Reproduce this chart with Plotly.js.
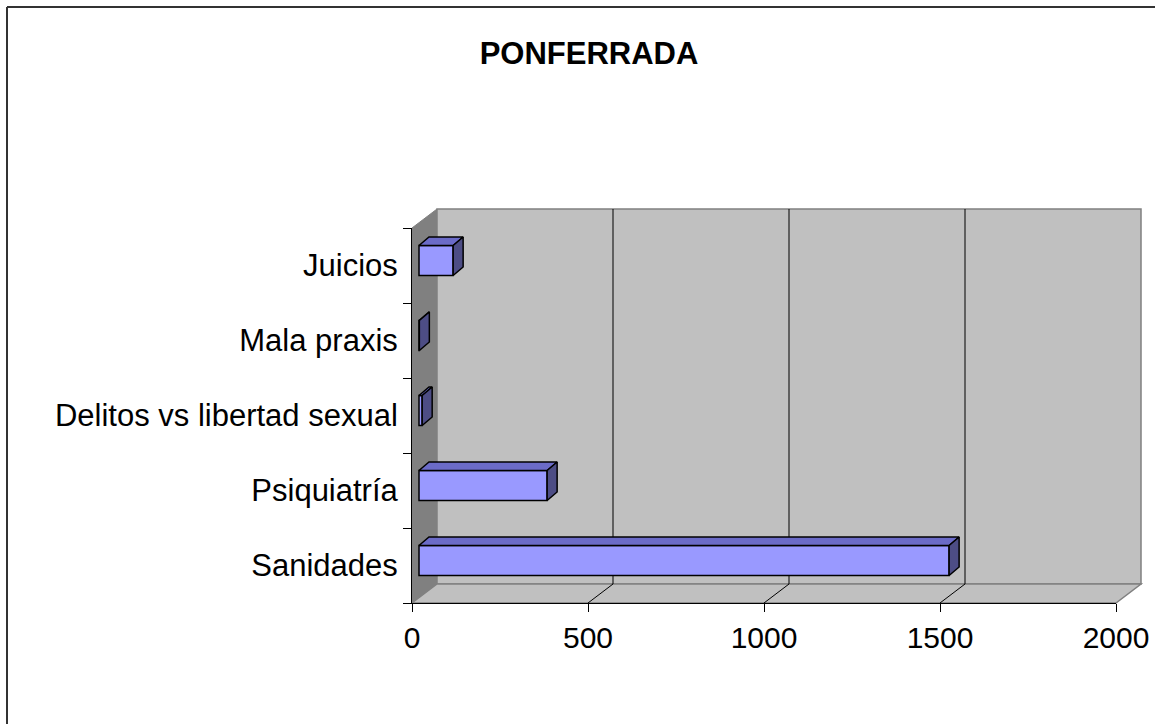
<!DOCTYPE html>
<html>
<head>
<meta charset="utf-8">
<script src="https://cdn.plot.ly/plotly-3.0.1.min.js"></script>
<style>
  html, body { margin: 0; padding: 0; background: #ffffff; }
  #chart { width: 1155px; height: 724px; }
</style>
</head>
<body>
<div id="chart"></div>
<script>
// ---- Data ----
const categories = ["Sanidades", "Psiquiatría", "Delitos vs libertad sexual", "Mala praxis", "Juicios"];
const values = [1506, 364, 9, 1, 97];
const xTickValues = [0, 500, 1000, 1500, 2000];
const chartTitle = "PONFERRADA";

// ---- Geometry (pixels of the figure) ----
const W = 1155, H = 724;
const PL = 412, PR = 1116, PT = 228, PB = 603;        // front plane of the 3D box
const plotW = PR - PL, plotH = PB - PT;
const xMax = 2000;
const pxPerUnit = plotW / xMax;
const catPx = plotH / categories.length;
const WALL_DX = 25, WALL_DY = 19;   // depth of the 3D box
const BAR_FRONT_DX = 7;             // bars sit a bit behind the front plane
const BAR_DX = 10, BAR_DY = 8.5;    // bar depth
const barWidth = 0.4;
const barShiftUp = 5 / catPx;

const font = "Liberation Sans, Arial, sans-serif";
const frontColor = "#9999ff", topColor = "#6b6bc8", sideColor = "#4d4d85";

const xBase = BAR_FRONT_DX / pxPerUnit;
const dxu = BAR_DX / pxPerUnit, dyu = BAR_DY / catPx;
const yPos = categories.map((c, i) => i);
const barOffset = -barWidth / 2 + barShiftUp;

const traces = [];
traces.push({
  type: "bar", orientation: "h",
  y: yPos, x: values, base: categories.map(() => xBase),
  width: categories.map(() => barWidth),
  offset: categories.map(() => barOffset),
  marker: { color: frontColor, line: { color: "#000000", width: 1.5 } },
  customdata: categories, textposition: "none",
  hovertemplate: "%{customdata}: %{x}<extra></extra>",
  showlegend: false
});

values.forEach((v, i) => {
  const yb = yPos[i] + barOffset, yt = yb + barWidth;
  const x0 = xBase, x1 = xBase + v;
  traces.push({
    type: "scatter", mode: "lines", fill: "toself", fillcolor: topColor,
    x: [x0, x1, x1 + dxu, x0 + dxu, x0], y: [yt, yt, yt + dyu, yt + dyu, yt],
    line: { color: "#000000", width: 1.5 }, hoverinfo: "skip", showlegend: false
  });
  traces.push({
    type: "scatter", mode: "lines", fill: "toself", fillcolor: sideColor,
    x: [x1, x1 + dxu, x1 + dxu, x1, x1], y: [yb, yb + dyu, yt + dyu, yt, yb],
    line: { color: "#000000", width: 1.5 }, hoverinfo: "skip", showlegend: false
  });
});

// pixel -> paper helpers
const px = x => (x - PL) / plotW;
const py = y => (PB - y) / plotH;
function poly(points) {
  return "M " + points.map(p => px(p[0]) + "," + py(p[1])).join(" L ") + " Z";
}

const shapes = [];
// left side wall
shapes.push({ type: "path", xref: "paper", yref: "paper", layer: "below",
  path: poly([[PL, PT], [PL + WALL_DX, PT - WALL_DY], [PL + WALL_DX, PB - WALL_DY], [PL, PB]]),
  fillcolor: "#808080", line: { color: "#808080", width: 1 } });
// back wall
shapes.push({ type: "path", xref: "paper", yref: "paper", layer: "below",
  path: poly([[PL + WALL_DX, PT - WALL_DY], [PR + WALL_DX, PT - WALL_DY], [PR + WALL_DX, PB - WALL_DY], [PL + WALL_DX, PB - WALL_DY]]),
  fillcolor: "#c0c0c0", line: { color: "#808080", width: 1.5 } });
// floor
shapes.push({ type: "path", xref: "paper", yref: "paper", layer: "below",
  path: poly([[PL, PB], [PL + WALL_DX, PB - WALL_DY], [PR + WALL_DX, PB - WALL_DY], [PR, PB]]),
  fillcolor: "#c0c0c0", line: { color: "#808080", width: 1.5 } });
// grid lines on back wall and floor
xTickValues.forEach(v => {
  if (v === 0) return;
  const wallX = v + WALL_DX / pxPerUnit;
  if (v < xMax) {
    shapes.push({ type: "line", xref: "x", yref: "paper", layer: "below",
      x0: wallX, x1: wallX, y0: py(PT - WALL_DY), y1: py(PB - WALL_DY),
      line: { color: "#000000", width: 1 } });
  }
  shapes.push({ type: "line", xref: "x", yref: "paper", layer: "below",
    x0: v, x1: wallX, y0: 0, y1: py(PB - WALL_DY),
    line: { color: v < xMax ? "#000000" : "#808080", width: 1 } });
});
// outer chart border (top and left)
shapes.push({ type: "line", xref: "paper", yref: "paper", x0: px(7), x1: px(W + 5), y0: py(7), y1: py(7),
  line: { color: "#333333", width: 2 } });
shapes.push({ type: "line", xref: "paper", yref: "paper", x0: px(7), x1: px(7), y0: py(7), y1: py(H + 5),
  line: { color: "#333333", width: 2 } });

const boundaries = [];
for (let i = 0; i <= categories.length; i++) boundaries.push(i - 0.5);

const layout = {
  width: W, height: H,
  margin: { l: PL, r: W - PR, t: PT, b: H - PB, pad: 0 },
  paper_bgcolor: "#ffffff", plot_bgcolor: "rgba(0,0,0,0)",
  showlegend: false,
  title: { text: "<b>" + chartTitle + "</b>", font: { family: font, size: 31, color: "#000000" },
    xref: "container", yref: "container", x: 589 / W, y: 1 - 53 / H, xanchor: "center", yanchor: "middle" },
  xaxis: {
    range: [0, xMax], tickvals: xTickValues, ticktext: xTickValues.map(String),
    showgrid: false, zeroline: false, showline: true, linecolor: "#000000", linewidth: 1,
    ticks: "outside", ticklen: 8, tickcolor: "#000000", tickwidth: 1,
    tickfont: { family: font, size: 30, color: "#000000" }, fixedrange: true
  },
  yaxis: {
    range: [-0.5, categories.length - 0.5], tickvals: yPos, ticktext: categories,
    showgrid: false, zeroline: false, showline: true, linecolor: "#000000", linewidth: 1,
    ticks: "", ticklabelstandoff: 7,
    minor: { tickvals: boundaries, ticks: "outside", ticklen: 8, tickcolor: "#000000", tickwidth: 1, showgrid: false },
    tickfont: { family: font, size: 31, color: "#000000" }, fixedrange: true
  },
  shapes: shapes
};

Plotly.newPlot("chart", traces, layout, { displayModeBar: false, staticPlot: true });
</script>
</body>
</html>
